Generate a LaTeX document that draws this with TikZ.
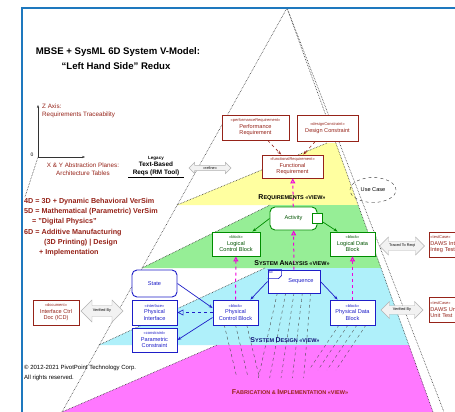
\documentclass[tikz,border=0pt]{standalone}
\usepackage{fontspec}
\setmainfont{Liberation Sans}
\usetikzlibrary{shapes.geometric, shapes.arrows, arrows.meta, calc}

\definecolor{vmyellow}{RGB}{255,255,160}
\definecolor{vmgreen}{RGB}{150,238,150}
\definecolor{vmcyan}{RGB}{175,240,250}
\definecolor{vmmagenta}{RGB}{255,120,255}
\definecolor{reqred}{RGB}{150,35,25}
\definecolor{framebl}{RGB}{30,120,190}
\definecolor{blkblue}{RGB}{30,30,200}
\definecolor{blkgreen}{RGB}{0,140,0}
\definecolor{trpink}{RGB}{240,0,220}

\newcommand{\vmst}{\fontsize{4}{4.8}\selectfont}
\newcommand{\vmbx}{\fontsize{5.6}{6.5}\selectfont}
\newcommand{\vmsc}[2]{{\fontsize{7}{8}\selectfont #1}{\fontsize{5.5}{8}\selectfont #2}}

\begin{document}
\begin{tikzpicture}[x=1pt, y=-1pt,
	reqbox/.style={draw=reqred, fill=white, line width=0.9pt, align=center, font=\vmbx, text=reqred, inner sep=1pt},
	grnbox/.style={draw=blkgreen, fill=white, line width=0.9pt, align=center, font=\vmbx, text=blkgreen!60!black, inner sep=1pt},
	blubox/.style={draw=blkblue, fill=white, line width=0.9pt, align=center, font=\vmbx, text=blkblue, inner sep=1pt},
	blkarrow/.style={double arrow, double arrow head extend=3pt, draw=gray!60, fill=gray!10, font=\fontsize{3.8}{4}\selectfont, inner sep=1pt},
	layeredge/.style={densely dotted, gray!40!black, line width=0.6pt},
	drvarr/.style={reqred, dashed, line width=0.6pt, -{Stealth[length=4pt, open]}},
	trace/.style={trpink, dashed, line width=1pt, -{Triangle[open, length=5pt, width=5pt]}},
	grnarr/.style={blkgreen, line width=0.7pt, -{Stealth[length=4pt]}},
	bluarr/.style={blkblue, line width=0.7pt, -{Stealth[length=4pt]}},
	alloc/.style={dashed, black!70, line width=0.4pt},
	viewlbl/.style={font=\fontsize{5.5}{7}\selectfont\bfseries, inner sep=0pt},
	smalltxt/.style={font=\fontsize{6.3}{7.5}\selectfont, text=reqred, inner sep=0pt}]
	\useasboundingbox (0,0) rectangle (455,412);
	\clip (0,0) rectangle (455,412);
	\fill[white] (0,0) rectangle (455,412);

	\fill[vmyellow] (177,205) -- (327,143) -- (336,143) -- (358,205) -- cycle;
	\fill[vmgreen] (142,268) -- (270,205) -- (358,205) -- (381,268) -- cycle;
	\fill[vmcyan] (99,345) -- (265,268) -- (381,268) -- (409,345) -- cycle;
	\fill[vmmagenta] (62,412) -- (217,345) -- (409,345) -- (433,412) -- cycle;
	\draw[layeredge] (177,205) -- (327,143);
	\draw[layeredge] (142,268) -- (270,205);
	\draw[layeredge] (99,345) -- (265,268);
	\draw[layeredge] (62,412) -- (217,345);

	\coordinate (apex) at (287,8);
	\coordinate (lfoot) at (62,412);
	\coordinate (rfoot) at (433,412);
	\coordinate (rfootb) at (444,412);
	\draw[layeredge] (lfoot) -- (apex) -- (rfoot);
	\draw[layeredge] (apex) -- (rfootb);

	\draw[framebl, line width=1.3pt] (22,412) -- (22,8) -- (456,8);

	\node[font=\fontsize{9.6}{11}\selectfont\bfseries] (title) at (118,52) {MBSE + SysML 6D System V-Model:};
	\node[font=\fontsize{9.6}{11}\selectfont\bfseries] (subtitle) at (116,66) {``Left Hand Side'' Redux};

	\coordinate (orig) at (38,157);
	\coordinate (zend) at (38,105);
	\coordinate (xend) at (85,157);
	\coordinate (yend) at (25,197);
	\draw[gray!40!black, line width=0.7pt, -{Stealth[length=3pt]}] (orig) -- (zend);
	\draw[gray!40!black, line width=0.7pt, -{Stealth[length=3pt]}] (orig) -- (xend);
	\draw[layeredge] (orig) -- (yend);
	\node[font=\fontsize{5}{6}\selectfont] (olbl) at (32,155) {0};
	\node[smalltxt, anchor=north west, align=left] (zlbl) at (42,104) {Z Axis:\\Requirements Traceability};
	\node[smalltxt, align=center] (xylbl) at (83,169) {X \& Y Abstraction Planes:\\Architecture Tables};

	\node[anchor=north west, align=left, font=\fontsize{7.2}{10.2}\selectfont\bfseries, text=reqred, inner sep=0pt] (dimtxt) at (24,198) {4D = 3D + Dynamic Behavioral VerSim\\5D = Mathematical (Parametric) VerSim\\\hspace*{8pt}= "Digital Physics"\\6D = Additive Manufacturing\\\hspace*{20pt}(3D Printing) | Design\\\hspace*{15pt}+ Implementation};
	\node[anchor=north west, align=left, font=\fontsize{6}{10}\selectfont, inner sep=0pt] (copyr) at (24,365) {\textcopyright{} 2012-2021 PivotPoint Technology Corp.\\All rights reserved.};

	\node[align=center, font=\fontsize{6.4}{7.5}\selectfont\bfseries, inner sep=1pt, minimum width=55] (txtreq) at (156,166) {{\fontsize{4.5}{5}\selectfont Legacy}\\Text-Based\\Reqs (RM Tool)};
	\draw[line width=0.8pt] (txtreq.south west) -- (txtreq.south east);

	\node[ellipse, draw, dashed, gray!40!black, text=black, minimum width=46, minimum height=25, font=\vmbx] (usecase) at (373,190) {Use Case};

	\foreach \i in {1,...,5}
		\draw[alloc] ($(269,293)!\i/6!(319,293)$) -- ++(-22+\i*3, 85);
	\foreach \i in {1,...,4}
		\draw[alloc] ($(330,325)!\i/5!(375,325)$) -- ++(-30, 45);
	\foreach \i in {1,...,3}
		\draw[alloc] ($(213,325)!\i/4!(258,325)$) -- ++(12, 50);

	\node[reqbox, minimum width=67, minimum height=25] (perfreq) at (255.5,127.5) {{\vmst «performanceRequirement»}\\Performance\\Requirement};
	\node[reqbox, minimum width=61, minimum height=26] (descon) at (327.5,128) {{\vmst «designConstraint»}\\Design Constraint};
	\node[reqbox, minimum width=61, minimum height=23] (funcreq) at (292.5,166.5) {{\vmst «functionalRequirement»}\\Functional\\Requirement};

	\node[grnbox, rounded corners=5pt, minimum width=47, minimum height=23] (activity) at (293.5,218.5) {Activity};
	\node[grnbox, minimum size=10, inner sep=0pt] (actpin) at (activity.east) {};
	\node[grnbox, minimum width=48, minimum height=24] (logctrl) at (236,244) {{\vmst «block»}\\Logical\\Control Block};
	\node[grnbox, minimum width=45, minimum height=24] (logdata) at (352.5,244) {{\vmst «block»}\\Logical Data\\Block};

	\node[blubox, minimum width=52, minimum height=23] (sequence) at (294,281.5) {\hspace*{14pt}Sequence};
	\draw[blkblue, line width=0.6pt] (sequence.north west) -- ++(14,0) -- ++(0,6) -- ++(-3,3) -- ++(-11,0);
	\node[font=\fontsize{3.5}{4}\selectfont, text=blkblue, anchor=north west, inner sep=1pt] (sdtag) at (sequence.north west) {sd};
	\node[blubox, minimum width=45, minimum height=25] (physctrl) at (235.5,312.5) {{\vmst «block»}\\Physical\\Control Block};
	\node[blubox, minimum width=45, minimum height=25] (physdata) at (352.5,312.5) {{\vmst «block»}\\Physical Data\\Block};
	\node[blubox, rounded corners=5pt, minimum width=45, minimum height=27] (state) at (154.5,283.5) {State};
	\node[blubox, minimum width=45, minimum height=25] (physif) at (154.5,312.5) {{\vmst «interface»}\\Physical\\Interface};
	\node[blubox, minimum width=45, minimum height=24] (paracon) at (154.5,340) {{\vmst «constraint»}\\Parametric\\Constraint};

	\node[reqbox, minimum width=46, minimum height=25] (icd) at (56,312.5) {{\vmst «document»}\\Interface Ctrl\\Doc (ICD)};
	\node[reqbox, anchor=west, text width=50, align=left, minimum height=25] (integtest) at (429,244.5) {{\vmst «testCase»}\\DAWS Integ\\Integ Test};
	\node[reqbox, anchor=west, text width=50, align=left, minimum height=25] (unittest) at (429,310) {{\vmst «testCase»}\\DAWS Unit\\Unit Test};

	\node[blkarrow, minimum height=42, minimum width=11] (syncarr) at (210,168) {«refine»};
	\node[blkarrow, minimum height=42, minimum width=22] (icdarr) at (102,311) {Verified By};
	\node[blkarrow, minimum height=45, minimum width=18] (tracearr) at (402,246) {Traced To Reqt};
	\node[blkarrow, minimum height=42, minimum width=17] (verarr) at (402,310) {Verified By};

	\draw[drvarr] (perfreq) -- (funcreq);
	\draw[drvarr] (descon) -- (funcreq);
	\draw[trace] (activity) -- (funcreq);
	\draw[trace] (sequence) -- (activity);
	\draw[trace] (physctrl) -- (logctrl);
	\draw[trace] (physdata) -- (logdata);
	\draw[grnarr] (activity.west) -- ([xshift=-8pt]logctrl.north east);
	\draw[grnarr] (actpin) -- ([xshift=8pt]logdata.north west);
	\draw[bluarr] (sequence.west) -- ([xshift=-8pt]physctrl.north east);
	\draw[bluarr] (sequence.east) -- ([xshift=8pt]physdata.north west);
	\draw[bluarr] (state.east) -- ([yshift=4.5pt]physctrl.west);
	\draw[blkblue, dashed, line width=0.7pt, -{Triangle[open, length=6pt, width=6pt]}] (physctrl.west) -- (physif.east);
	\draw[bluarr] ([yshift=-5pt]physctrl.west) -- (paracon.east);

	\node[viewlbl] (reqview) at (292,198) {\vmsc{R}{EQUIREMENTS «VIEW»}};
	\node[viewlbl] (anaview) at (292,263) {\vmsc{S}{YSTEM} \vmsc{A}{NALYSIS «VIEW»}};
	\node[viewlbl, text=blkblue!60!black] (desview) at (285,340) {\vmsc{S}{YSTEM} \vmsc{D}{ESIGN «VIEW»}};
	\node[viewlbl, text=reqred] (fabview) at (290,392) {\vmsc{F}{ABRICATION} \& \vmsc{I}{MPLEMENTATION «VIEW»}};
\end{tikzpicture}
\end{document}
